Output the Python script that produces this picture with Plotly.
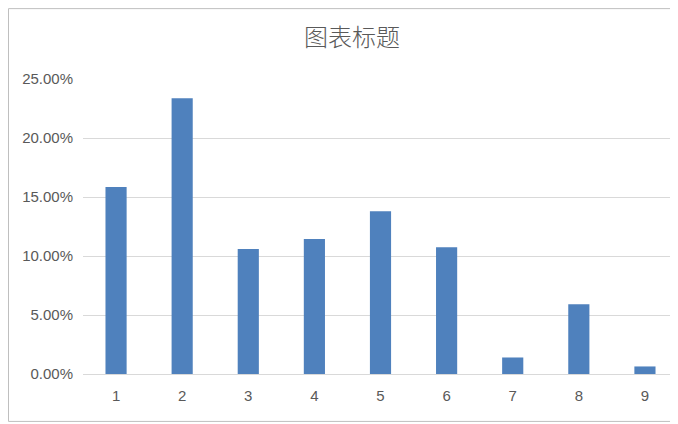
import plotly.graph_objects as go

# category labels and the share for each
categories = ["1", "2", "3", "4", "5", "6", "7", "8", "9"]
shares = [0.1585, 0.2336, 0.1060, 0.1145, 0.1380, 0.1074, 0.0140, 0.0591, 0.0064]
y_ticks = [0, 0.05, 0.10, 0.15, 0.20, 0.25]

# page body adds an 8px margin, so the figure is sized to fit the window
W, H = 670, 416
L, R, T, B = 75, 0, 71, 49.5
pw, ph = W - L - R, H - T - B
grey = "#595959"

fig = go.Figure()
fig.add_trace(go.Bar(x=categories, y=shares, marker=dict(color="#4f81bd", line=dict(width=0)),
                     width=0.32, hoverinfo="x+y"))

fig.update_layout(
    width=W, height=H,
    margin=dict(l=L, r=R, t=T, b=B),
    paper_bgcolor="white", plot_bgcolor="white",
    showlegend=False,
    title=dict(text="图表标题", x=344 / W, xref="container", xanchor="center",
               y=1 - 30 / H, yref="container", yanchor="middle",
               font=dict(family="Noto Sans CJK SC", size=24, color=grey, weight=300)),
    font=dict(family="Liberation Sans, Arial", size=15, color=grey),
)

fig.update_yaxes(range=[0, 0.25], tickvals=y_ticks, tickformat=".2%",
                 showgrid=True, gridcolor="#d9d9d9", gridwidth=1,
                 zeroline=False, showline=False, ticks="", ticklabelstandoff=9,
                 tickfont=dict(size=15, color=grey))
fig.update_xaxes(showgrid=False, showline=True, linecolor="#d9d9d9", linewidth=1,
                 ticks="", ticklabelstandoff=8, tickfont=dict(size=15, color=grey))

# chart border
fig.add_shape(type="rect", xref="paper", yref="paper",
              x0=(0.5 - L) / pw, x1=(664 - L) / pw,
              y0=-(414 - (H - B)) / ph, y1=1 + (T - 0.5) / ph,
              line=dict(color="#bfbfbf", width=1), fillcolor="rgba(0,0,0,0)", layer="below")

fig.write_html("out.html")
